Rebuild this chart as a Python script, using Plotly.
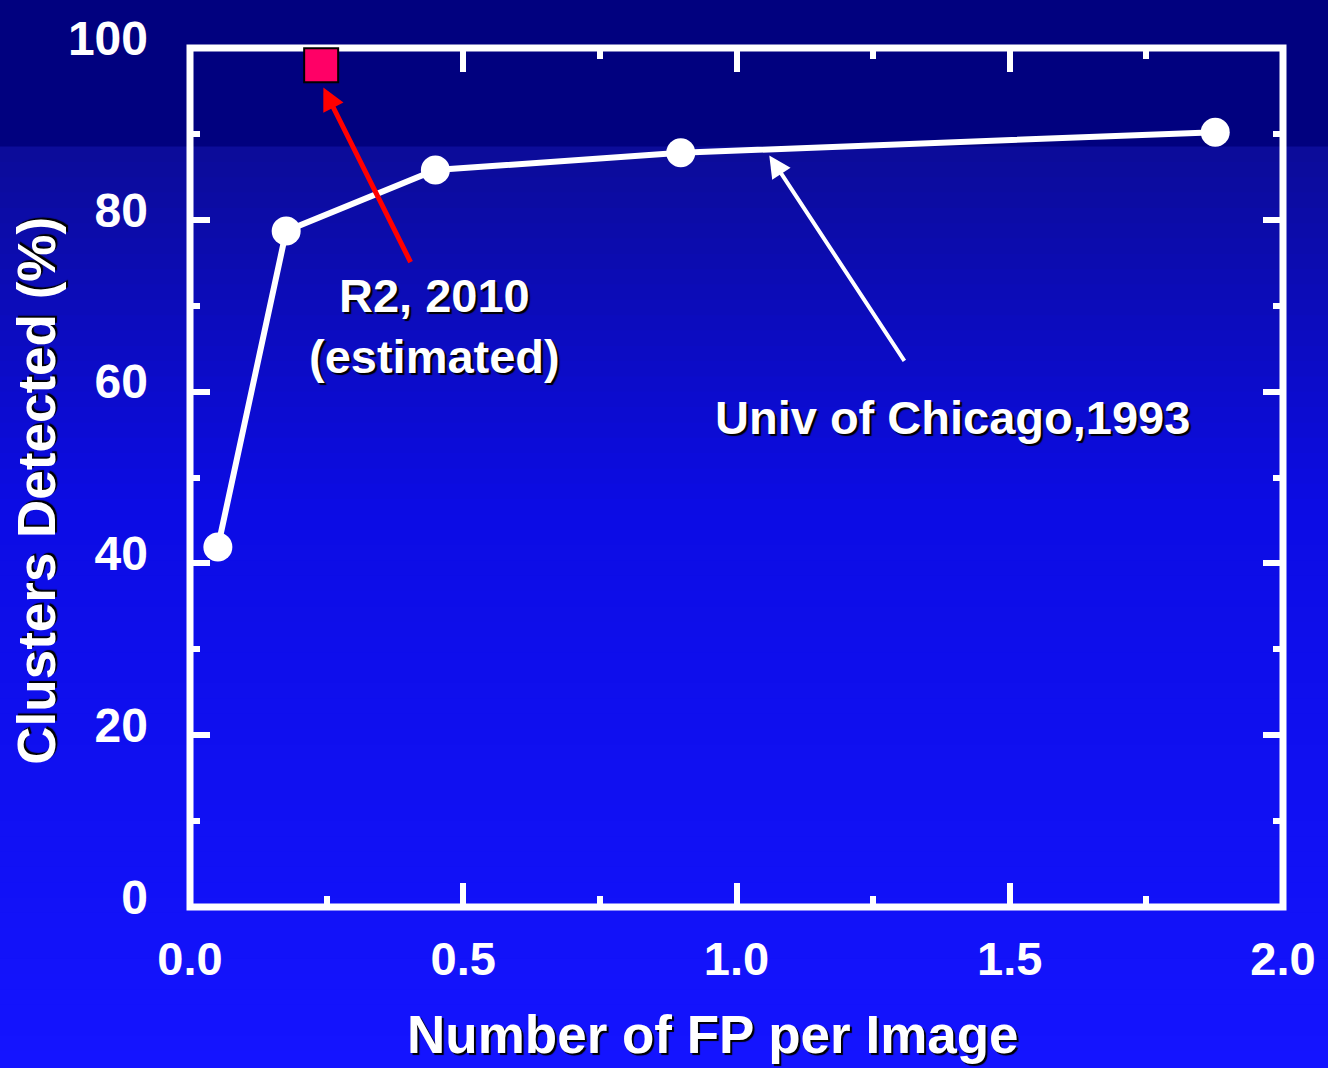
import plotly.graph_objects as go

# Data
fp_per_image = [0.051, 0.176, 0.449, 0.898, 1.876]
clusters_detected = [41.9, 78.7, 85.8, 87.8, 90.2]
r2_x = [0.24]
r2_y = [98.0]
x_ticks = [0.0, 0.5, 1.0, 1.5, 2.0]
x_tick_labels = ["0.0", "0.5", "1.0", "1.5", "2.0"]
y_ticks = [0, 20, 40, 60, 80, 100]
y_tick_labels = ["0", "20", "40", "60", "80", "100"]

W, H = 1328, 1068
L, R, T, B = 190, 39, 40, 161
PW, PH = W - L - R, H - T - B
FONT = "Liberation Sans, Arial, sans-serif"
SHADOW = "2px 2px 1px #000000"

def px_to_paper_x(px):
    return (px - L) / PW

def px_to_paper_y(py):
    return (H - B - py) / PH

fig = go.Figure()

fig.add_trace(go.Scatter(
    x=fp_per_image, y=clusters_detected, mode="lines+markers",
    line=dict(color="white", width=6),
    marker=dict(color="white", size=29, symbol="circle"),
    showlegend=False, cliponaxis=False))

fig.add_trace(go.Scatter(
    x=r2_x, y=r2_y, mode="markers",
    marker=dict(color="#ff0066", size=34, symbol="square",
                line=dict(color="black", width=2)),
    showlegend=False, cliponaxis=False))

# background gradient
shapes = []
shapes.append(dict(type="rect", xref="paper", yref="paper", x0=-0.2, x1=1.1,
                   y0=px_to_paper_y(140), y1=1.2, fillcolor="#01017f",
                   line=dict(width=0), layer="below"))
stops = [(140, (12, 12, 152)), (500, (12, 12, 228)), (1068, (20, 20, 255))]
n = 60
for i in range(n):
    p0 = 140 + (1068 - 140) * i / n
    p1 = 140 + (1068 - 140) * (i + 1) / n
    pm = (p0 + p1) / 2
    for (a, ca), (b, cb) in zip(stops[:-1], stops[1:]):
        if a <= pm <= b:
            t = (pm - a) / (b - a)
            c = tuple(int(round(ca[k] + (cb[k] - ca[k]) * t)) for k in range(3))
    y0 = px_to_paper_y(p1 + 0.5) if i < n - 1 else -0.3
    shapes.append(dict(type="rect", xref="paper", yref="paper", x0=-0.2, x1=1.1,
                       y0=y0, y1=px_to_paper_y(p0 - 0.5),
                       fillcolor="rgb(%d,%d,%d)" % c, line=dict(width=0), layer="below"))

# plot frame centred on the plot-area edges
shapes.append(dict(type="rect", xref="paper", yref="paper", x0=0, x1=1, y0=0, y1=1,
                   line=dict(color="white", width=7), fillcolor="rgba(0,0,0,0)",
                   layer="below"))

annotations = [
    dict(x=0.244, y=95.4, ax=0.405, ay=74.9, xref="x", yref="y", axref="x", ayref="y",
         text="", showarrow=True, arrowhead=2, arrowsize=0.9, arrowwidth=5, arrowcolor="#ff0000"),
    dict(x=1.06, y=87.5, ax=1.309, ay=63.4, xref="x", yref="y", axref="x", ayref="y",
         text="", showarrow=True, arrowhead=2, arrowsize=1.1, arrowwidth=4, arrowcolor="white"),
    dict(x=0.447, y=67.6, xref="x", yref="y", text="<b>R2, 2010<br>(estimated)</b>",
         showarrow=False, font=dict(family=FONT, size=47, color="white", shadow=SHADOW)),
    dict(x=1.396, y=57.0, xref="x", yref="y", text="<b>Univ of Chicago,1993</b>",
         showarrow=False, font=dict(family=FONT, size=47, color="white", shadow=SHADOW)),
    # axis titles
    dict(x=px_to_paper_x(716), y=px_to_paper_y(1036), xref="paper", yref="paper",
         text="<b>Number of FP per Image</b>", showarrow=False,
         xanchor="center", yanchor="middle",
         font=dict(family=FONT, size=53, color="white", shadow=SHADOW)),
    dict(x=px_to_paper_x(36), y=px_to_paper_y(487), xref="paper", yref="paper",
         text="<b>Clusters Detected (%)</b>", showarrow=False, textangle=-90,
         xanchor="center", yanchor="middle",
         font=dict(family=FONT, size=53, color="white", shadow=SHADOW)),
]

fig.update_layout(
    width=W, height=H,
    margin=dict(l=L, r=R, t=T, b=B),
    paper_bgcolor="#0c0cc0", plot_bgcolor="rgba(0,0,0,0)",
    shapes=shapes, annotations=annotations,
    font=dict(family=FONT, color="white"),
)

fig.update_xaxes(
    range=[0, 2], tickvals=x_ticks, ticktext=x_tick_labels,
    showgrid=False, zeroline=False, layer="below traces",
    showline=False, mirror="allticks",
    ticks="inside", ticklen=24, tickwidth=6, tickcolor="white",
    minor=dict(dtick=0.25, ticks="inside", ticklen=11, tickwidth=6, tickcolor="white"),
    tickfont=dict(family=FONT, size=47, color="white", weight="bold"),
    ticklabelstandoff=20, ticklabeloverflow="allow",
)
fig.update_yaxes(
    range=[0, 100], tickvals=y_ticks, ticktext=y_tick_labels,
    showgrid=False, zeroline=False, layer="below traces",
    showline=False, mirror="allticks",
    ticks="inside", ticklen=20, tickwidth=6, tickcolor="white",
    minor=dict(dtick=10, ticks="inside", ticklen=10, tickwidth=6, tickcolor="white"),
    tickfont=dict(family=FONT, size=48, color="white", weight="bold"),
    ticklabelstandoff=41, ticklabelshift=-10, ticklabeloverflow="allow",
)

fig.write_html("out.html", config={"displayModeBar": False},
               post_script="document.body.style.margin='0';document.body.style.overflow='hidden';")
